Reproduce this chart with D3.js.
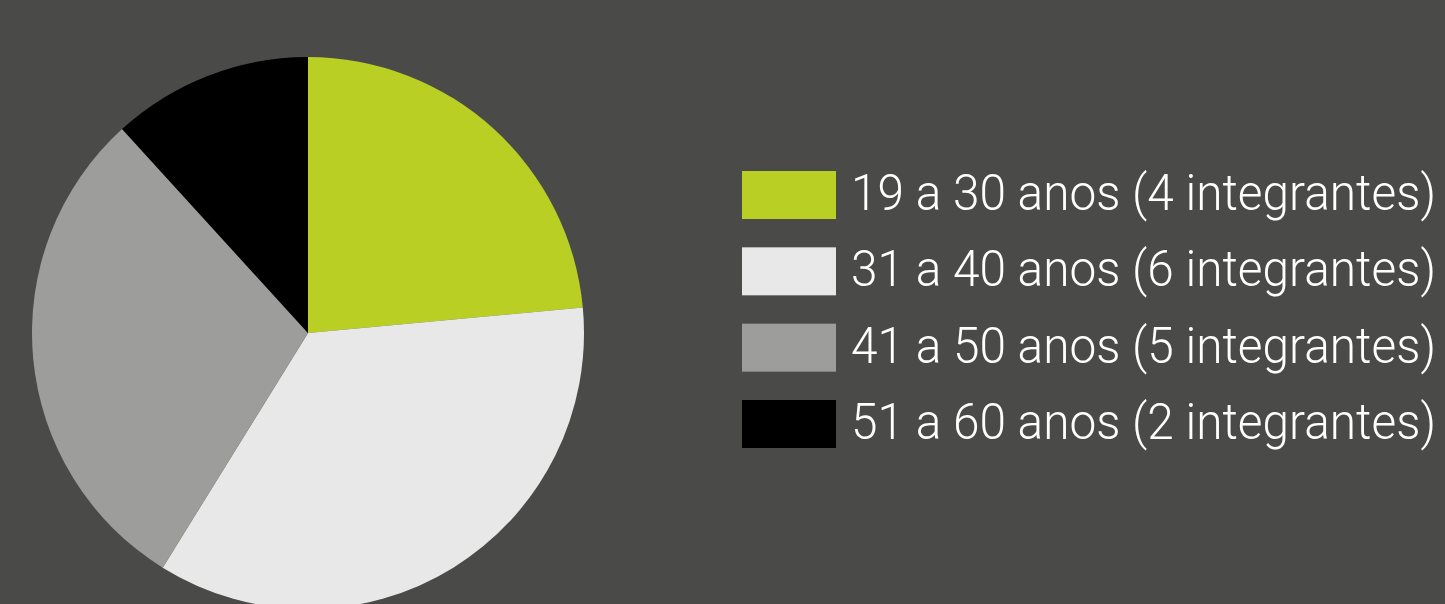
<!DOCTYPE html>
<html>
<head>
<meta charset="utf-8">
<script src="https://cdn.jsdelivr.net/npm/d3@7"></script>
<style>
  html, body { margin: 0; padding: 0; background: #4a4a48; }
  svg { display: block; }
</style>
</head>
<body>
<svg id="chart" width="1445" height="604"></svg>
<script>
// age groups and member counts
const groups = ["19 a 30 anos", "31 a 40 anos", "41 a 50 anos", "51 a 60 anos"];
const members = [4, 6, 5, 2];
const colors = ["#b9cf24", "#e8e8e8", "#9d9d9b", "#000000"];

const data = groups.map((g, i) => ({ group: g, value: members[i] }));

const svg = d3.select("#chart");
const width = 1445, height = 604;

svg.append("rect")
    .attr("width", width)
    .attr("height", height)
    .attr("fill", "#4a4a48");

const color = d3.scaleOrdinal().domain(groups).range(colors);

// pie
const radius = 276;
const pieGroup = svg.append("g")
    .attr("transform", "translate(308,333)");

const pie = d3.pie()
    .value(d => d.value)
    .sort(null);

const arc = d3.arc()
    .innerRadius(0)
    .outerRadius(radius);

pieGroup.selectAll("path")
    .data(pie(data))
    .join("path")
    .attr("d", arc)
    .attr("fill", d => color(d.data.group));

// legend
const rowY = d3.scalePoint()
    .domain(groups)
    .range([171, 400]);

const legend = svg.append("g").attr("class", "legend")
    .selectAll("g.legend-entry")
    .data(data)
    .join("g")
    .attr("class", "legend-entry")
    .attr("transform", d => `translate(742, ${rowY(d.group)})`);

legend.append("rect")
    .attr("width", 94)
    .attr("height", 48)
    .attr("fill", d => color(d.group));

legend.append("text")
    .attr("x", 109)
    .attr("y", 39)
    .attr("fill", "#ffffff")
    .style("font-family", "Roboto, 'Open Sans', sans-serif")
    .style("font-weight", 300)
    .style("font-size", "50px")
    .attr("textLength", 585)
    .attr("lengthAdjust", "spacingAndGlyphs")
    .text(d => `${d.group} (${d.value} integrantes)`);
</script>
</body>
</html>
